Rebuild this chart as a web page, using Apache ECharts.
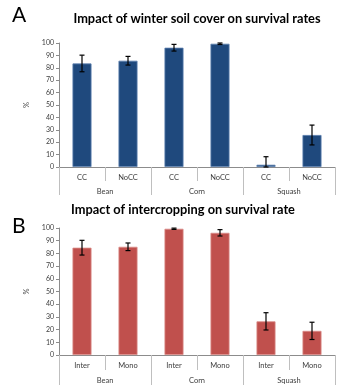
<!DOCTYPE html>
<html><head><meta charset="utf-8">
<script src="https://cdn.jsdelivr.net/npm/echarts@6/dist/echarts.min.js"></script>
<style>html,body{margin:0;padding:0;background:#fff}#c{width:338px;height:385px}</style>
</head><body><div id="c"></div>
<script>
const subCatsA = ['CC','NoCC','CC','NoCC','CC','NoCC'];
const subCatsB = ['Inter','Mono','Inter','Mono','Inter','Mono'];
const groups = ['Bean','Corn','Squash'];
const valuesA = [83.5, 85.7, 96.2, 99.4, 1.8, 25.8];
const errorsA = [6.7, 3.5, 2.7, 0.6, 6.5, 8];
const valuesB = [84.5, 85.2, 99.4, 96.2, 26.5, 19];
const errorsB = [5.8, 3, 0.5, 2.5, 6.8, 6.8];
const yTicks = [0,10,20,30,40,50,60,70,80,90,100];

const chart = echarts.init(document.getElementById('c'), null, {renderer:'canvas'});
const FONT = 'Lato';
const grids = [
  {left:59, right:3, top:43, height:124},
  {left:59, right:3, top:228, height:128}
];
function xAxes(gi, subs, subLen, grpLen, grpMargin) {
  return [
    {type:'category', gridIndex:gi, data:subs, position:'bottom',
     axisLine:{lineStyle:{color:'#8c8c8c', width:1}},
     axisTick:{show:true, interval:0, length:subLen, lineStyle:{color:'#bfbfbf'}},
     axisLabel:{interval:0, margin:7, fontSize:7.5, color:'#404040', fontFamily:FONT}},
    {type:'category', gridIndex:gi, data:groups, position:'bottom',
     axisLine:{show:false},
     axisTick:{show:true, interval:0, length:grpLen, lineStyle:{color:'#bfbfbf'}},
     axisLabel:{interval:0, margin:grpMargin, fontSize:7.5, color:'#404040', fontFamily:FONT}}
  ];
}
function yAxis(gi) {
  return {type:'value', gridIndex:gi, min:0, max:100, interval:10,
    name:'%', nameLocation:'middle', nameGap:24, nameRotate:90,
    nameTextStyle:{fontSize:7.5, color:'#404040', fontFamily:FONT},
    axisLine:{show:true, lineStyle:{color:'#8c8c8c'}},
    axisTick:{show:true, length:3, lineStyle:{color:'#8c8c8c'}},
    axisLabel:{fontSize:7, color:'#404040', margin:5, fontFamily:FONT,
      formatter: v => yTicks.includes(v) ? String(v) : ''},
    splitLine:{show:false}};
}
function errSeries(xi, yi, vals, errs) {
  return {type:'custom', xAxisIndex:xi, yAxisIndex:yi, z:10,
    data: vals.map((v,i)=>[i, v, errs[i]]),
    renderItem:(params, api)=>{
      const x = api.value(0), v = api.value(1), e = api.value(2);
      const hi = api.coord([x, Math.min(100, v+e)]);
      const lo = api.coord([x, Math.max(0, v-e)]);
      const w = 2.5;
      const st = {stroke:'#000', lineWidth:1.2};
      return {type:'group', children:[
        {type:'line', shape:{x1:hi[0], y1:hi[1], x2:lo[0], y2:lo[1]}, style:st},
        {type:'line', shape:{x1:hi[0]-w, y1:hi[1], x2:hi[0]+w, y2:hi[1]}, style:st},
        {type:'line', shape:{x1:lo[0]-w, y1:lo[1], x2:lo[0]+w, y2:lo[1]}, style:st}
      ]};
    }};
}
const xa = xAxes(0, subCatsA, 14, 28, 21);
const xb = xAxes(1, subCatsB, 15, 32, 22);
chart.setOption({
  animation:false,
  grid:grids,
  xAxis:[...xa, ...xb],
  yAxis:[yAxis(0), yAxis(1)],
  series:[
    {type:'bar', xAxisIndex:0, yAxisIndex:0, data:valuesA, barWidth:19,
     itemStyle:{color:'#1f497d', borderColor:'#5b7fae', borderWidth:0.8}},
    errSeries(0, 0, valuesA, errorsA),
    {type:'bar', xAxisIndex:2, yAxisIndex:1, data:valuesB, barWidth:19,
     itemStyle:{color:'#c0504d', borderColor:'#d98a88', borderWidth:0.8}},
    errSeries(2, 1, valuesB, errorsB)
  ],
  graphic:[
    {type:'text', left:12, top:5, style:{text:'A', fontSize:21, fontFamily:FONT, fill:'#000'}},
    {type:'text', left:12, top:216, style:{text:'B', fontSize:21, fontFamily:FONT, fill:'#000'}},
    {type:'text', x:197, y:19, style:{text:'Impact of winter soil cover on survival rates', fontSize:12.8, fontWeight:'bold', fontFamily:FONT, fill:'#000', align:'center', verticalAlign:'middle'}},
    {type:'text', x:183, y:210, style:{text:'Impact of intercropping on survival rate', fontSize:12.8, fontWeight:'bold', fontFamily:FONT, fill:'#000', align:'center', verticalAlign:'middle'}}
  ]
});
</script></body></html>
